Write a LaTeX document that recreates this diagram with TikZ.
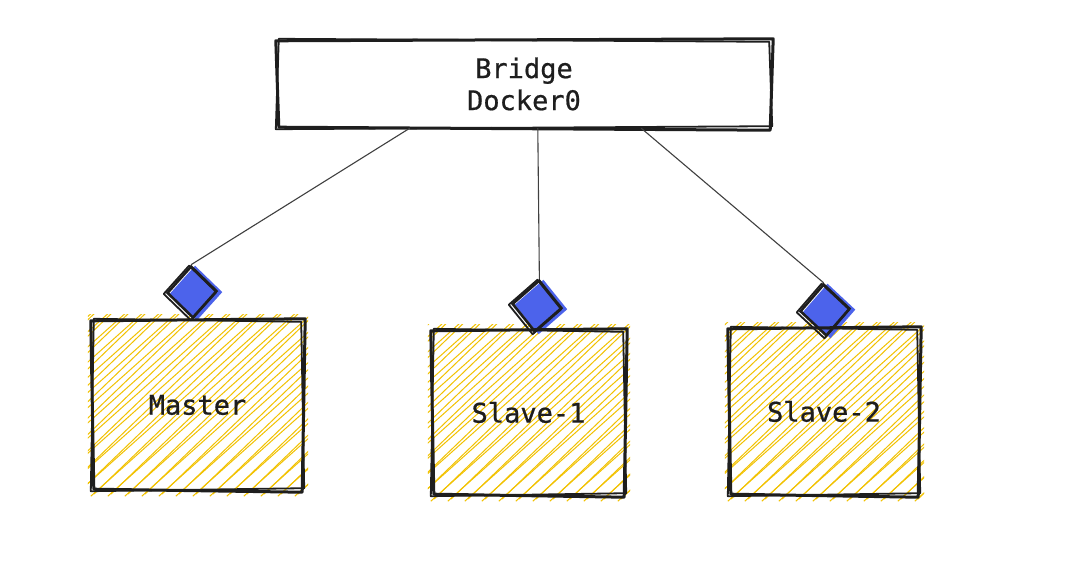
\documentclass[tikz,border=0pt]{standalone}
\usepackage{fontspec}
\newfontfamily\labelfont{DejaVu Sans Mono}[FakeBold=0.7]
\usetikzlibrary{calc,shapes.geometric}
\pgfdeclarelayer{background}
\pgfsetlayers{background,main}
\definecolor{hatchY}{HTML}{F2C200}
\definecolor{pinBlue}{HTML}{4C63EB}
\definecolor{inkC}{HTML}{1E1E1E}
\newcommand\roughbox[1]{%
  \draw[roughA] ([shift={(-2,1)}]#1.north west) -- ([shift={(3,-1)}]#1.north east) -- ([shift={(0,2)}]#1.south east) -- ([shift={(1,-1)}]#1.south west) -- cycle;
  \draw[roughB] ([shift={(1,-1)}]#1.north west) -- ([shift={(-1,2)}]#1.north east) -- ([shift={(2,-2)}]#1.south east) -- ([shift={(-2,1)}]#1.south west) -- cycle;
}
\newcommand\hatchbox[1]{%
  \begin{scope}
    \clip ([shift={(-5,-5)}]#1.north west) rectangle ([shift={(6,6)}]#1.south east);
    \foreach \i in {-240,-223,...,240} {
      \draw[hatchline] ($(#1.south west)+(\i,6)$) -- ++(255,-228);
      \draw[hatchline] ($(#1.south west)+(\i+3,4)$) -- ++(245,-236);
    }
  \end{scope}}
\newcommand\pinfill[1]{%
  \fill[pinBlue] ([shift={(4,1)}]#1.north) -- ([shift={(4,1)}]#1.east) -- ([shift={(4,1)}]#1.south) -- ([shift={(4,1)}]#1.west) -- cycle;}
\newcommand\pinrough[1]{%
  \draw[roughB] ([shift={(-2,1)}]#1.north) -- ([shift={(-2,1)}]#1.east) -- ([shift={(-2,1)}]#1.south) -- ([shift={(-2,1)}]#1.west) -- cycle;}
\begin{document}
\begin{tikzpicture}[x=1pt,y=-1pt,
  txt/.style={font=\labelfont\fontsize{27}{32}\selectfont, text=inkC, align=center},
  hostbox/.style={txt, draw=none, inner sep=0pt},
  pin/.style={diamond, draw=inkC, line width=2.6pt, minimum width=50pt, minimum height=52pt, inner sep=0pt},
  roughA/.style={draw=inkC, line width=3pt, line join=round, line cap=round},
  roughB/.style={draw=inkC, line width=1.8pt, line join=round, line cap=round},
  hatchline/.style={draw=hatchY, line width=1pt},
  conn/.style={draw=inkC!85, line width=1.1pt}
]
\useasboundingbox (0,0) rectangle (1073,570);

\node[hostbox, minimum width=492pt, minimum height=88pt] (bridge) at (524,84) {Bridge\\Docker0};
\node[hostbox, minimum width=209pt, minimum height=170pt] (master) at (197.5,405) {Master};
\node[hostbox, minimum width=191pt, minimum height=165pt] (slave1) at (528.5,412.5) {Slave-1};
\node[hostbox, minimum width=188pt, minimum height=167pt] (slave2) at (824,411.5) {Slave-2};

\node[pin, rotate=2] (dm) at (192,292) {};
\node[pin, rotate=-5] (d1) at (537,306) {};
\node[pin, rotate=3] (d2) at (825,310) {};

\begin{pgfonlayer}{background}
  \fill[white] (0,0) rectangle (1073,570);
  \hatchbox{master}
  \hatchbox{slave1}
  \hatchbox{slave2}
  \pinfill{dm}
  \pinfill{d1}
  \pinfill{d2}
\end{pgfonlayer}

\roughbox{bridge}
\roughbox{master}
\roughbox{slave1}
\roughbox{slave2}
\pinrough{dm}
\pinrough{d1}
\pinrough{d2}

\draw[conn] ($(bridge.south west)!0.268!(bridge.south east)$) -- (dm.north);
\draw[conn] ($(bridge.south west)!0.528!(bridge.south east)$) -- (d1.north);
\draw[conn] ($(bridge.south west)!0.738!(bridge.south east)$) -- (d2.north);
\end{tikzpicture}
\end{document}
